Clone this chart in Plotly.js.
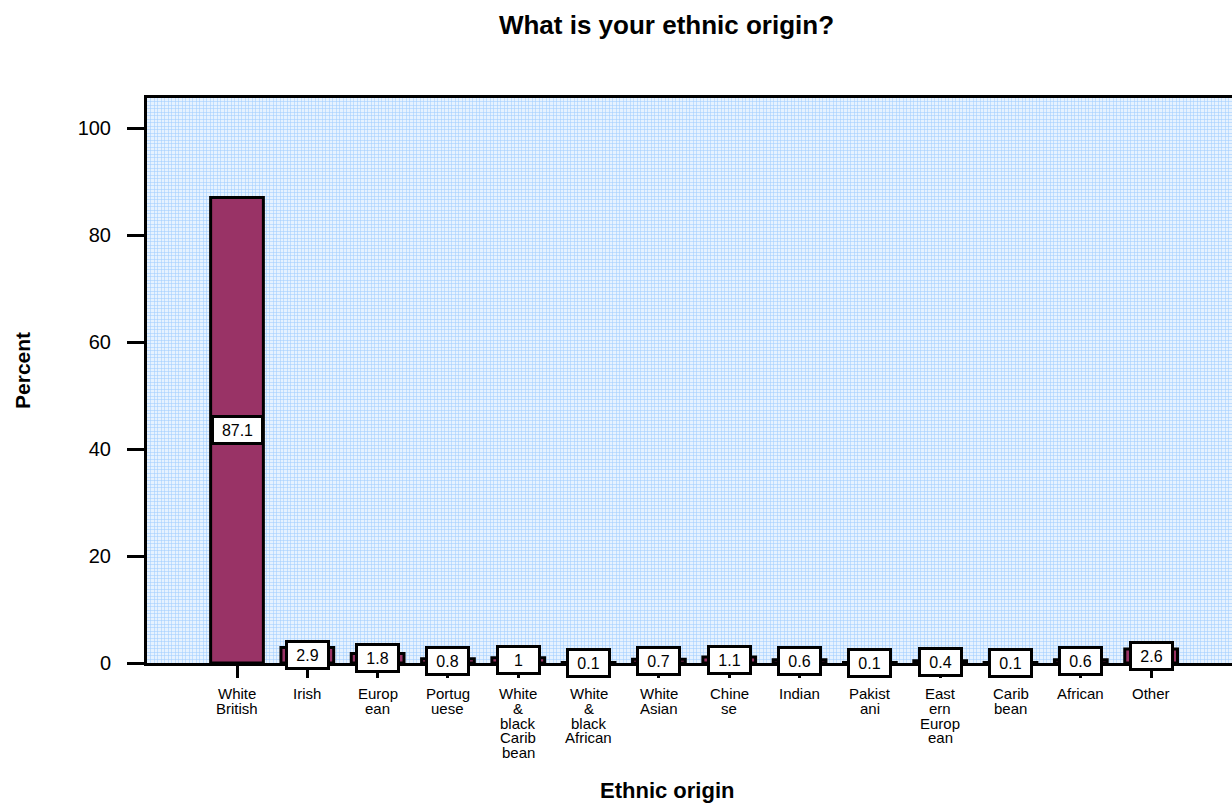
<!DOCTYPE html>
<html>
<head>
<meta charset="utf-8">
<script src="https://cdn.plot.ly/plotly-3.0.1.min.js"></script>
<style>html,body{margin:0;padding:0;background:#fff;}#chart{width:1232px;height:803px;}</style>
</head>
<body>
<div id="chart"></div>
<script>
// Ethnic origin survey responses (percent)
const categories = ["White British", "Irish", "European", "Portuguese", "White & black Caribbean",
  "White & black African", "White Asian", "Chinese", "Indian", "Pakistani",
  "Eastern European", "Caribbean", "African", "Other"];
// category labels, wrapped line by line
const tickLabels = [["White", "British"], ["Irish"], ["Europ", "ean"], ["Portug", "uese"],
  ["White", "&", "black", "Carib", "bean"], ["White", "&", "black", "African"], ["White", "Asian"],
  ["Chine", "se"], ["Indian"], ["Pakist", "ani"], ["East", "ern", "Europ", "ean"], ["Carib", "bean"],
  ["African"], ["Other"]];
const percents = [87.1, 2.9, 1.8, 0.8, 1, 0.1, 0.7, 1.1, 0.6, 0.1, 0.4, 0.1, 0.6, 2.6];

const FONT = "Liberation Sans, Arial, sans-serif";

const bars = {
  type: "bar",
  x: categories,
  y: percents,
  width: 0.75,
  marker: { color: "#993366", line: { color: "#000", width: 3 } },
  hoverinfo: "x+y"
};

// empty trace that carries the fine background grid axes
const gridCarrier = {
  type: "scatter", x: [], y: [], xaxis: "x2", yaxis: "y2",
  showlegend: false, hoverinfo: "skip"
};

// value boxes centred halfway up each bar
const valueBoxes = categories.map((c, i) => ({
  x: c, y: percents[i] / 2, xref: "x", yref: "y",
  text: String(percents[i]), showarrow: false,
  font: { family: FONT, size: 16, color: "#000" },
  bgcolor: "#fff", bordercolor: "#000", borderwidth: 3, borderpad: 1,
  width: i === 0 ? 45 : 37, height: 22
}));

// category labels below the axis, tight line spacing
const LINE = 14.8;
const categoryText = [];
categories.forEach((c, i) => {
  tickLabels[i].forEach((line, k) => {
    categoryText.push({
      x: c, y: 0, xref: "x", yref: "y", text: line, showarrow: false,
      xanchor: "center", yanchor: "top", yshift: -(20 + k * LINE),
      font: { family: FONT, size: 15, color: "#000" }
    });
  });
});

const layout = {
  width: 1232, height: 803,
  margin: { l: 147, r: 0, t: 98, b: 140 },
  paper_bgcolor: "#fff",
  plot_bgcolor: "#e6f2ff",
  showlegend: false,
  title: { text: "<b>What is your ethnic origin?</b>", x: 0.541, xref: "container", xanchor: "center",
    y: 0.969, yref: "container", yanchor: "middle",
    font: { family: FONT, size: 26, color: "#000" } },
  xaxis: {
    type: "category", categoryarray: categories,
    range: [-1.28, 14.15], showgrid: false, zeroline: false,
    showline: true, linecolor: "#000", linewidth: 3, mirror: true,
    ticks: "outside", ticklen: 12, tickwidth: 3, tickcolor: "#000",
    showticklabels: false, fixedrange: true
  },
  yaxis: {
    range: [0, 105.7], tickvals: [0, 20, 40, 60, 80, 100],
    showgrid: false, zeroline: false,
    showline: true, linecolor: "#000", linewidth: 3,
    ticks: "outside", ticklen: 17, tickwidth: 3, tickcolor: "#000",
    tickfont: { family: FONT, size: 20, color: "#000" }, ticklabelstandoff: 12,
    fixedrange: true
  },
  xaxis2: {
    overlaying: "x", range: [0, 310], dtick: 1, showgrid: true,
    gridcolor: "rgba(160,205,255,0.55)", gridwidth: 1,
    showticklabels: false, ticks: "", zeroline: false, showline: false, fixedrange: true
  },
  yaxis2: {
    overlaying: "y", range: [0, 161], dtick: 1, showgrid: true,
    gridcolor: "rgba(160,205,255,0.55)", gridwidth: 1,
    showticklabels: false, ticks: "", zeroline: false, showline: false, fixedrange: true
  },
  annotations: valueBoxes.concat(categoryText, [
    { text: "<b>Ethnic origin</b>", xref: "paper", yref: "paper", x: 0.479, y: -0.2265,
      xanchor: "center", yanchor: "middle", showarrow: false,
      font: { family: FONT, size: 22, color: "#000" } },
    { text: "<b>Percent</b>", xref: "paper", yref: "paper", x: -0.1143, y: 0.5186,
      xanchor: "center", yanchor: "middle", textangle: -90, showarrow: false,
      font: { family: FONT, size: 21, color: "#000" } }
  ])
};

Plotly.newPlot("chart", [gridCarrier, bars], layout, { displayModeBar: false, staticPlot: true });
</script>
</body>
</html>
